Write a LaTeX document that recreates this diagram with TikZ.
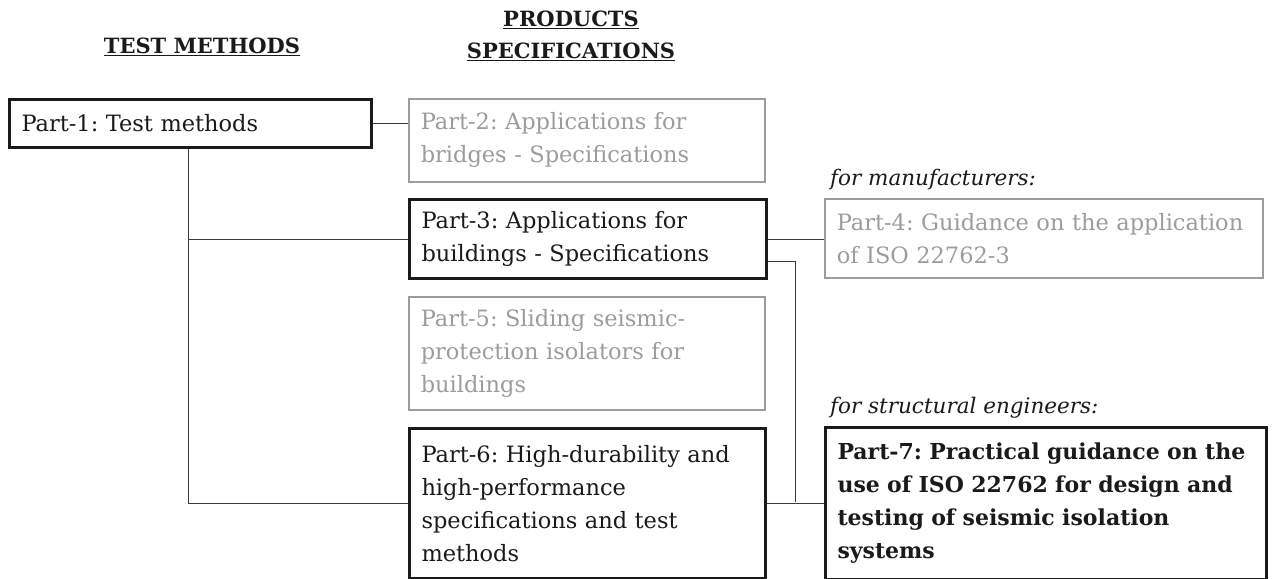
\documentclass[tikz,border=0pt]{standalone}
\usepackage{fontspec}
\setmainfont{DejaVu Serif}
\usetikzlibrary{positioning}
\definecolor{ink}{HTML}{1A1A1A}
\definecolor{pale}{HTML}{9C9C9C}
\definecolor{wire}{HTML}{3A3A3A}

\tikzset{
  darkbox/.style={draw=ink,line width=3pt,anchor=north west,align=left,inner sep=12pt,text=ink},
  palebox/.style={draw=pale,line width=1.5pt,anchor=north west,align=left,inner sep=12pt,text=pale},
  wire/.style={draw=wire,line width=1pt},
  header/.style={font=\fontsize{21}{32}\selectfont\bfseries,text=ink,align=center},
  note/.style={font=\fontsize{21.5}{30}\selectfont\itshape,text=ink,anchor=south west,inner sep=0pt}
}

\begin{document}
\frenchspacing
\begin{tikzpicture}[x=1pt,y=-1pt,font=\fontsize{22.5}{33}\selectfont]
  \useasboundingbox (0,0) rectangle (1276,578);
  \node[header] (hdtest) at (202,47) {\underline{TEST METHODS}};
  \node[header] (hdprod) at (571,36) {\underline{PRODUCTS}\\\underline{SPECIFICATIONS}};

  \node[darkbox,minimum width=362pt,minimum height=48pt,text width=338pt] (p1) at (8,98) {Part-1: Test methods};
  \node[palebox,minimum width=356pt,minimum height=83pt,text width=332pt] (p2) at (408,98) {Part-2: Applications for\\bridges - Specifications};
  \node[darkbox,minimum width=357pt,minimum height=74pt,text width=333pt] (p3) at (408,198) {Part-3: Applications for\\buildings - Specifications};
  \node[palebox,minimum width=438pt,minimum height=79pt,text width=414pt] (p4) at (824,198) {Part-4: Guidance on the application\\of ISO 22762-3};
  \node[palebox,minimum width=356pt,minimum height=113pt,text width=332pt] (p5) at (408,296) {Part-5: Sliding seismic-\\protection isolators for\\buildings};
  \node[darkbox,minimum width=356pt,minimum height=150pt,text width=332pt] (p6) at (408,427) {Part-6: High-durability and\\high-performance\\specifications and test\\methods};
  \node[darkbox,minimum width=441pt,minimum height=152pt,text width=417pt,font=\fontsize{22}{33}\selectfont\bfseries] (p7) at (824,426) {Part-7: Practical guidance on the\\use of ISO 22762 for design and\\testing of seismic isolation\\systems};

  \node[note] (formanu) at (830,190) {for manufacturers:};
  \node[note] (forstruct) at (830,418) {for structural engineers:};

  \coordinate (trunk) at (188,0);
  \coordinate (join) at (795,502);
  \draw[wire] (p1.south -| trunk) |- (p6.west);
  \draw[wire] (p1.south -| trunk) |- (p3.west);
  \draw[wire] (p1.east) -- (p1.east -| p2.west);
  \draw[wire] (p3.east) -- (p3.east -| p4.west);
  \draw[wire] ([yshift=-22pt]p3.east) -| (join);
  \draw[wire] (p6.east) -- (p6.east -| p7.west);
\end{tikzpicture}
\end{document}
